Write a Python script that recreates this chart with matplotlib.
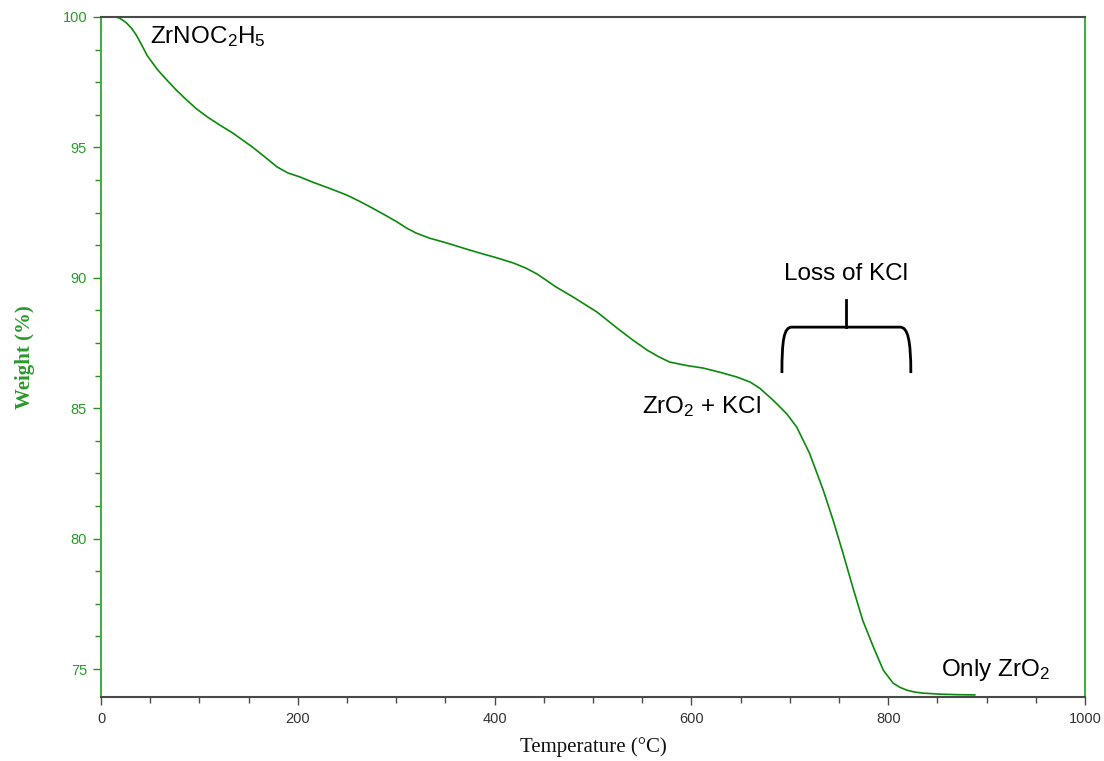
import matplotlib
matplotlib.use("Agg")
import matplotlib.pyplot as plt
from matplotlib.path import Path
from matplotlib.patches import PathPatch
from matplotlib.ticker import MultipleLocator

plt.rcParams['mathtext.fontset'] = 'custom'
plt.rcParams['mathtext.rm'] = 'Liberation Sans'
plt.rcParams['mathtext.it'] = 'Liberation Sans:italic'

# TGA data (temperature °C, weight %)
temperature = [11, 14, 18, 22, 26, 31, 36, 41, 47, 57, 67, 77, 87, 97, 108, 121, 134,
               154, 166, 179, 190, 202, 215, 233, 250, 263, 276, 289, 301, 310, 320,
               334, 352, 369, 385, 402, 419, 432, 443, 452, 462, 480, 504, 527, 541,
               555, 567, 578, 595, 612, 629, 646, 660, 670, 683, 690, 697, 707, 720,
               734, 744, 754, 764, 774, 785, 795, 805, 812, 819, 827, 835, 852, 870,
               888]
weight = [100.0, 100.0, 99.97, 99.88, 99.77, 99.57, 99.3, 98.95, 98.52, 98.0, 97.58,
          97.18, 96.82, 96.48, 96.17, 95.85, 95.55, 95.01, 94.65, 94.25, 94.02, 93.87,
          93.67, 93.42, 93.17, 92.93, 92.67, 92.40, 92.14, 91.92, 91.72, 91.52, 91.33,
          91.13, 90.95, 90.77, 90.57, 90.37, 90.15, 89.92, 89.66, 89.26, 88.69, 88.00,
          87.60, 87.23, 86.97, 86.77, 86.64, 86.54, 86.38, 86.20, 86.00, 85.75, 85.31,
          85.05, 84.78, 84.28, 83.28, 81.86, 80.71, 79.45, 78.14, 76.88, 75.84, 74.96,
          74.46, 74.30, 74.19, 74.12, 74.08, 74.04, 74.02, 74.01]

x_ticks = [0, 200, 400, 600, 800, 1000]
y_ticks = [75, 80, 85, 90, 95, 100]

labels = {
    'start': r'ZrNOC$_\mathregular{2}$H$_\mathregular{5}$',
    'mid': r'ZrO$_\mathregular{2}$ + KCl',
    'loss': 'Loss of KCl',
    'end': r'Only ZrO$_\mathregular{2}$',
}

green_curve = '#0a8a0a'
green_axis = '#45ad45'
green_text = '#2a9a2a'
dark = '#4a4a4a'

fig = plt.figure(figsize=(11.04, 7.61), dpi=100)
ax = fig.add_axes([101/1104, 1-697/761, (1085-101)/1104, (697-17)/761])

ax.plot(temperature, weight, color=green_curve, lw=1.2)

ax.set_xlim(0, 1000)
ax.set_ylim(73.93, 100)
ax.set_xticks(x_ticks)
ax.set_yticks(y_ticks)
ax.xaxis.set_minor_locator(MultipleLocator(50))
ax.yaxis.set_minor_locator(MultipleLocator(1.25))

for s in ['left', 'right']:
    ax.spines[s].set_color(green_axis)
    ax.spines[s].set_linewidth(1.5)
for s in ['top', 'bottom']:
    ax.spines[s].set_color(dark)
    ax.spines[s].set_linewidth(1.5)

ax.tick_params(axis='x', which='major', length=6, width=1, color=dark, pad=5,
               labelsize=10.5, labelcolor='#333333')
ax.tick_params(axis='x', which='minor', length=4, width=1, color=dark)
ax.tick_params(axis='y', which='major', length=6, width=1, color='#2a8a2a', pad=4,
               labelsize=10.5, labelcolor=green_text)
ax.tick_params(axis='y', which='minor', length=4, width=1, color='#2a8a2a')
for lab in ax.get_xticklabels() + ax.get_yticklabels():
    lab.set_fontfamily('Liberation Sans')

ax.set_xlabel('Temperature (°C)', fontfamily='Liberation Serif', fontsize=15,
              color='#111111', labelpad=8)
ax.set_ylabel('Weight (%)', fontfamily='Liberation Serif', fontsize=15,
              fontweight='bold', color=green_text, labelpad=20)

tkw = dict(fontfamily='Liberation Sans', fontsize=17.5, color='black', va='baseline')
ax.text(50, 99.0, labels['start'], ha='left', **tkw)
ax.text(757, 89.92, labels['loss'], ha='center', **tkw)
ax.text(550, 84.82, labels['mid'], ha='left', **tkw)
ax.text(854, 74.73, labels['end'], ha='left', **tkw)

# curly bracket annotation over the KCl loss region
verts = [(692, 86.35), (692, 87.6), (694, 88.11), (702, 88.11),
         (812, 88.11),
         (820, 88.11), (823, 87.6), (823, 86.35)]
codes = [Path.MOVETO, Path.CURVE4, Path.CURVE4, Path.CURVE4,
         Path.LINETO,
         Path.CURVE4, Path.CURVE4, Path.CURVE4]
ax.add_patch(PathPatch(Path(verts, codes), fill=False, lw=2, edgecolor='black',
                       clip_on=False))
ax.plot([757, 757], [88.11, 89.15], color='black', lw=2)

fig.savefig('out.png', dpi=100)
